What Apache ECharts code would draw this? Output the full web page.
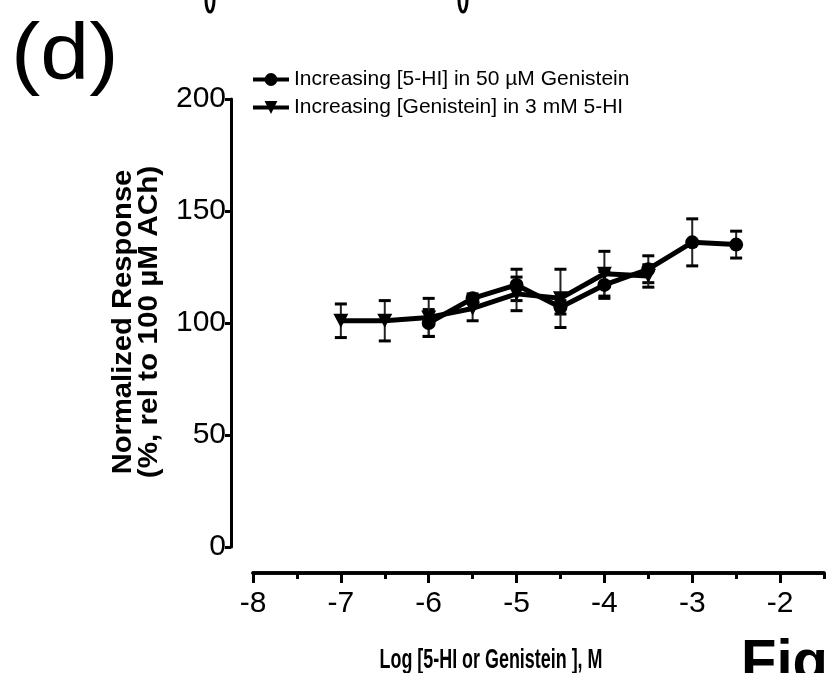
<!DOCTYPE html>
<html>
<head>
<meta charset="utf-8">
<script src="https://cdn.jsdelivr.net/npm/echarts@6/dist/echarts.min.js"></script>
<style>
  html, body { margin: 0; padding: 0; background: #fff; }
  #chart { width: 827px; height: 673px; }
</style>
</head>
<body>
<div id="chart"></div>
<script>
// x positions are log10 molar concentrations
const xMajorTicks = [-8, -7, -6, -5, -4, -3, -2];
const xMinorTicks = [-7.5, -6.5, -5.5, -4.5, -3.5, -2.5, -1.5];

// Increasing [5-HI] in 50 uM genistein (circles)
const hiLogConc = [-6, -5.5, -5, -4.5, -4, -3.5, -3, -2.5];
const hiMean = [100, 111, 117, 107, 117, 124, 136, 135];
const hiErr = [6, 2, 7, 3, 6, 6, 10.5, 6];

// Increasing [genistein] in 3 mM 5-HI (triangles)
const genLogConc = [-7, -6.5, -6, -5.5, -5, -4.5, -4, -3.5];
const genMean = [101, 101, 102.5, 106.5, 113, 111, 122, 121];
const genErr = [7.5, 9, 8.5, 5.5, 7.5, 13, 10, 5];

const FONT = "'Liberation Sans', Arial, sans-serif";
const nameHI = 'Increasing [5-HI] in 50 \u00b5M Genistein';
const nameGen = 'Increasing [Genistein] in 3 mM 5-HI';

const zip = (xs, ys) => xs.map((x, i) => [x, ys[i]]);
const zip3 = (xs, ys, es) => xs.map((x, i) => [x, ys[i], es[i]]);

function errorBars(params, api) {
  const x = api.value(0);
  const y = api.value(1);
  const e = api.value(2);
  const top = api.coord([x, y + e]);
  const bot = api.coord([x, y - e]);
  const hw = 6;
  return {
    type: 'group',
    children: [
      { type: 'line', shape: { x1: top[0], y1: top[1], x2: bot[0], y2: bot[1] },
        style: { stroke: '#222', lineWidth: 2 } },
      { type: 'line', shape: { x1: top[0] - hw, y1: top[1], x2: top[0] + hw, y2: top[1] },
        style: { stroke: '#000', lineWidth: 3 } },
      { type: 'line', shape: { x1: bot[0] - hw, y1: bot[1], x2: bot[0] + hw, y2: bot[1] },
        style: { stroke: '#000', lineWidth: 3 } }
    ]
  };
}

const chart = echarts.init(document.getElementById('chart'));

const xAxisBase = {
  type: 'value',
  position: 'bottom',
  min: -8,
  max: -1.5,
  offset: 26,
  splitLine: { show: false },
  axisLine: { onZero: false, lineStyle: { color: '#000', width: 3.5 } }
};

chart.setOption({
  animation: false,
  backgroundColor: '#fff',
  textStyle: { fontFamily: FONT },
  grid: { left: 253, right: 3, top: 99, bottom: 126 },
  legend: {
    data: [nameHI, nameGen],
    orient: 'vertical',
    left: 251,
    top: 69,
    padding: 0,
    itemWidth: 36,
    itemHeight: 16,
    itemGap: 7,
    lineStyle: { width: 4 },
    textStyle: { fontSize: 21, color: '#000', fontFamily: FONT, lineHeight: 16 }
  },
  xAxis: [
    Object.assign({}, xAxisBase, {
      axisTick: { show: true, length: 10, lineStyle: { color: '#000', width: 3 },
        customValues: xMajorTicks },
      axisLabel: { color: '#000', fontSize: 30, margin: 16, fontFamily: FONT,
        customValues: xMajorTicks }
    }),
    Object.assign({}, xAxisBase, {
      axisTick: { show: true, length: 6, lineStyle: { color: '#000', width: 3 },
        customValues: xMinorTicks },
      axisLabel: { show: false }
    })
  ],
  yAxis: {
    type: 'value',
    min: 0,
    max: 200,
    interval: 50,
    offset: 22,
    splitLine: { show: false },
    axisLine: { show: true, lineStyle: { color: '#000', width: 3 } },
    axisTick: { show: true, length: 6, lineStyle: { color: '#000', width: 3 } },
    axisLabel: { color: '#000', fontSize: 30, margin: 5, fontFamily: FONT }
  },
  series: [
    {
      type: 'custom',
      xAxisIndex: 0,
      renderItem: errorBars,
      data: zip3(hiLogConc, hiMean, hiErr),
      z: 1
    },
    {
      type: 'custom',
      xAxisIndex: 0,
      renderItem: errorBars,
      data: zip3(genLogConc, genMean, genErr),
      z: 1
    },
    {
      name: nameHI,
      type: 'line',
      xAxisIndex: 0,
      data: zip(hiLogConc, hiMean),
      symbol: 'circle',
      symbolSize: 14,
      lineStyle: { color: '#000', width: 5 },
      itemStyle: { color: '#000' },
      z: 3
    },
    {
      name: nameGen,
      type: 'line',
      xAxisIndex: 0,
      data: zip(genLogConc, genMean),
      symbol: 'triangle',
      symbolRotate: 180,
      symbolSize: [15, 14],
      lineStyle: { color: '#000', width: 5 },
      itemStyle: { color: '#000' },
      z: 3
    }
  ],
  graphic: [
    { type: 'text', x: 11, y: 17, scaleX: 1.1,
      style: { text: '(d)', font: '80px ' + FONT, fill: '#000' } },
    // cut-off strokes from the panel above
    { type: 'ellipse', shape: { cx: 210, cy: 0, rx: 4, ry: 12 },
      style: { fill: 'none', stroke: '#000', lineWidth: 3 } },
    { type: 'ellipse', shape: { cx: 463, cy: 0, rx: 4, ry: 12 },
      style: { fill: 'none', stroke: '#000', lineWidth: 3 } },
    { type: 'text', x: 124, y: 322, rotation: Math.PI / 2, scaleX: 1.08,
      style: { text: 'Normalized Response', font: 'bold 27px ' + FONT, fill: '#000',
        align: 'center', verticalAlign: 'middle' } },
    { type: 'text', x: 150, y: 322, rotation: Math.PI / 2, scaleX: 1.1,
      style: { text: '(%, rel to 100 \u00b5M ACh)', font: 'bold 27px ' + FONT, fill: '#000',
        align: 'center', verticalAlign: 'middle' } },
    { type: 'text', x: 491, y: 660, scaleX: 0.64,
      style: { text: 'Log [5-HI or Genistein ], M', font: 'bold 28px ' + FONT, fill: '#000',
        align: 'center', verticalAlign: 'middle' } },
    { type: 'text', x: 741, y: 635,
      style: { text: 'Fig', font: 'bold 58px ' + FONT, fill: '#000',
        align: 'left', verticalAlign: 'top' } }
  ]
});
</script>
</body>
</html>
